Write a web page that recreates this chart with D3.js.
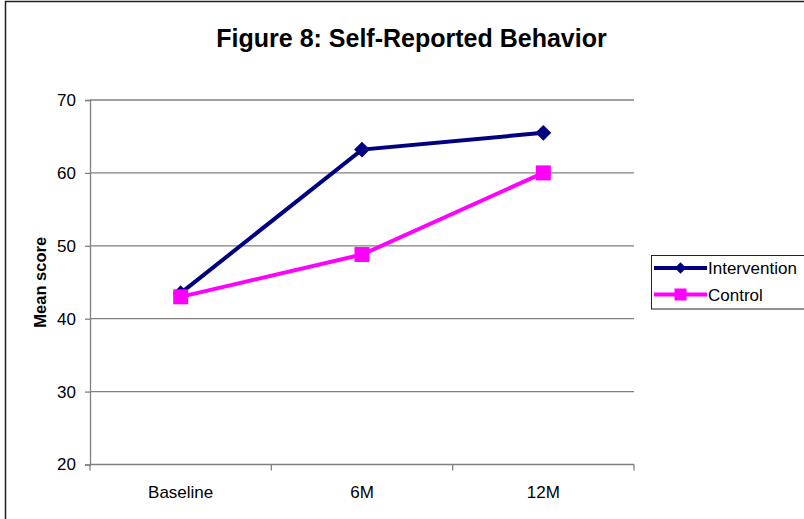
<!DOCTYPE html>
<html>
<head>
<meta charset="utf-8">
<script src="https://cdn.jsdelivr.net/npm/d3@7"></script>
<style>
  html, body { margin: 0; padding: 0; background: #fff; }
  svg { display: block; font-family: Arial, "Liberation Sans", sans-serif; }
</style>
</head>
<body>
<svg id="chart" width="804" height="519"></svg>
<script>
// Time points and mean scores
const categories = ["Baseline", "6M", "12M"];
const intervention = [43.5, 63.2, 65.5];
const control = [43.0, 48.8, 60.0];
const yTicks = [20, 30, 40, 50, 60, 70];
const seriesNames = ["Intervention", "Control"];

const svg = d3.select("#chart");

// Outer frame
svg.append("rect")
  .attr("x", 5.5).attr("y", 1.5)
  .attr("width", 820).attr("height", 540)
  .attr("fill", "none").attr("stroke", "#222").attr("stroke-width", 1.5);

const plot = { left: 90, right: 634, top: 100, bottom: 464.5 };

const x = d3.scaleBand().domain(categories).range([plot.left, plot.right]).padding(0);
const y = d3.scaleLinear().domain([20, 70]).range([plot.bottom, plot.top]);

// Title
svg.append("text")
  .attr("x", 411.5).attr("y", 47)
  .attr("text-anchor", "middle")
  .attr("font-size", 25).attr("font-weight", "bold")
  .attr("fill", "#000")
  .text("Figure 8: Self-Reported Behavior");

// Horizontal gridlines
svg.append("g").selectAll("line")
  .data(yTicks.filter(d => d !== 20))
  .join("line")
  .attr("x1", plot.left).attr("x2", plot.right)
  .attr("y1", d => y(d)).attr("y2", d => y(d))
  .attr("stroke", "#808080").attr("stroke-width", 1.3);

// Y axis
const yAxis = svg.append("g")
  .attr("transform", `translate(${plot.left},0)`)
  .call(d3.axisLeft(y).tickValues(yTicks).tickSize(5).tickPadding(9).tickFormat(d3.format("d")));
yAxis.select(".domain").attr("stroke", "#808080").attr("stroke-width", 1.3);
yAxis.selectAll(".tick line").attr("stroke", "#808080").attr("stroke-width", 1.3);
yAxis.selectAll(".tick text").attr("font-size", 17).attr("fill", "#000")
  .attr("font-family", "Arial, 'Liberation Sans', sans-serif");

// X axis: ticks at category boundaries, labels centered
const xAxisG = svg.append("g").attr("transform", `translate(0,${plot.bottom})`);
xAxisG.append("line")
  .attr("x1", plot.left).attr("x2", plot.right)
  .attr("y1", 0).attr("y2", 0)
  .attr("stroke", "#808080").attr("stroke-width", 1.3);
const boundaries = categories.map(c => x(c)).concat([x(categories[categories.length - 1]) + x.bandwidth()]);
xAxisG.selectAll("line.tick")
  .data(boundaries)
  .join("line").attr("class", "tick")
  .attr("x1", d => d).attr("x2", d => d)
  .attr("y1", 0).attr("y2", 6)
  .attr("stroke", "#808080").attr("stroke-width", 1.3);
xAxisG.selectAll("text")
  .data(categories)
  .join("text")
  .attr("x", d => x(d) + x.bandwidth() / 2)
  .attr("y", 33.5)
  .attr("text-anchor", "middle")
  .attr("font-size", 17).attr("fill", "#000")
  .text(d => d);

// Y axis title
svg.append("text")
  .attr("transform", `translate(46,${(plot.top + plot.bottom) / 2}) rotate(-90)`)
  .attr("text-anchor", "middle")
  .attr("font-size", 16.5).attr("font-weight", "bold")
  .text("Mean score");

const cx = d => x(d) + x.bandwidth() / 2;
const line = d3.line().x(d => cx(d.c)).y(d => y(d.v));

const intData = categories.map((c, i) => ({ c, v: intervention[i] }));
const ctlData = categories.map((c, i) => ({ c, v: control[i] }));

// Intervention series
svg.append("path").datum(intData)
  .attr("d", line).attr("fill", "none")
  .attr("stroke", "#000080").attr("stroke-width", 4);
const diamond = d3.symbol().type(d3.symbolSquare).size(125);
svg.append("g").selectAll("path")
  .data(intData).join("path")
  .attr("d", diamond())
  .attr("transform", d => `translate(${cx(d.c)},${y(d.v)}) rotate(45)`)
  .attr("fill", "#000080");

// Control series
svg.append("path").datum(ctlData)
  .attr("d", line).attr("fill", "none")
  .attr("stroke", "#FF00FF").attr("stroke-width", 4);
svg.append("g").selectAll("rect")
  .data(ctlData).join("rect")
  .attr("x", d => cx(d.c) - 7.5).attr("y", d => y(d.v) - 7.5)
  .attr("width", 15).attr("height", 15)
  .attr("fill", "#FF00FF");

// Legend
const legend = svg.append("g");
legend.append("rect")
  .attr("x", 651.5).attr("y", 255.5)
  .attr("width", 170).attr("height", 53.5)
  .attr("fill", "#fff").attr("stroke", "#222").attr("stroke-width", 1);
const legendItems = [
  { name: seriesNames[0], color: "#000080", shape: "diamond" },
  { name: seriesNames[1], color: "#FF00FF", shape: "square" }
];
const rowY = [268, 294.5];
const legendDiamond = d3.symbol().type(d3.symbolSquare).size(64);
legendItems.forEach((it, i) => {
  const g = legend.append("g").attr("transform", `translate(0,${rowY[i]})`);
  g.append("line").attr("x1", 654).attr("x2", 707).attr("y1", 0).attr("y2", 0)
    .attr("stroke", it.color).attr("stroke-width", 4);
  if (it.shape === "diamond") {
    g.append("path").attr("d", legendDiamond())
      .attr("transform", "translate(680.5,0) rotate(45)")
      .attr("fill", it.color);
  } else {
    g.append("rect").attr("x", 674.5).attr("y", -6).attr("width", 12).attr("height", 12)
      .attr("fill", it.color);
  }
  g.append("text").attr("x", 708).attr("y", 6)
    .attr("font-size", 17).attr("fill", "#000")
    .text(it.name);
});
</script>
</body>
</html>
